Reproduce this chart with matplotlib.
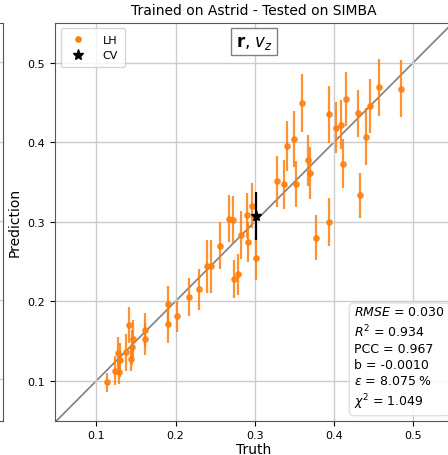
import numpy as np
import matplotlib
matplotlib.use("Agg")
import matplotlib.pyplot as plt
from matplotlib.lines import Line2D

# -------------------------------
# Data
# -------------------------------
truth_lh = [0.113, 0.124, 0.127, 0.129, 0.130, 0.138, 0.141, 0.144, 0.145, 0.147,
            0.161, 0.162, 0.190, 0.191, 0.202, 0.217, 0.230, 0.240, 0.245, 0.256,
            0.267, 0.272, 0.274, 0.279, 0.282, 0.290, 0.291, 0.296, 0.301, 0.328,
            0.337, 0.340, 0.350, 0.352, 0.360, 0.367, 0.370, 0.377, 0.394, 0.394,
            0.403, 0.409, 0.411, 0.415, 0.430, 0.433, 0.440, 0.445, 0.457, 0.485]
pred_lh = [0.098, 0.113, 0.135, 0.111, 0.126, 0.136, 0.170, 0.127, 0.142, 0.153,
           0.153, 0.164, 0.172, 0.196, 0.181, 0.205, 0.215, 0.244, 0.244, 0.270,
           0.304, 0.302, 0.228, 0.234, 0.283, 0.308, 0.274, 0.320, 0.254, 0.351,
           0.347, 0.395, 0.404, 0.347, 0.449, 0.377, 0.361, 0.280, 0.300, 0.435,
           0.418, 0.422, 0.373, 0.454, 0.436, 0.333, 0.407, 0.445, 0.469, 0.467]
err_lh = [0.012, 0.018, 0.020, 0.015, 0.021, 0.023, 0.023, 0.015, 0.022, 0.023,
          0.020, 0.021, 0.025, 0.023, 0.019, 0.024, 0.026, 0.033, 0.033, 0.030,
          0.030, 0.030, 0.024, 0.026, 0.030, 0.028, 0.025, 0.028, 0.027, 0.032,
          0.031, 0.031, 0.035, 0.029, 0.036, 0.032, 0.033, 0.028, 0.030, 0.036,
          0.032, 0.031, 0.031, 0.034, 0.030, 0.028, 0.036, 0.034, 0.036, 0.036]

truth_cv = [0.301]
pred_cv = [0.307]
err_cv = [0.030]

stats = ["$RMSE$ = 0.030", "$R^2$ = 0.934", "PCC = 0.967",
         "b = -0.0010", r"$\epsilon$ = 8.075 %", r"$\chi^2$ = 1.049"]

lims = (0.048, 0.55)

# -------------------------------
# Figure (right panel of a wider figure, cropped)
# -------------------------------
fig = plt.figure(figsize=(4.48, 4.56), dpi=100)
left, bottom, w, h = 55 / 448, 34.3 / 456, 398 / 448, 398 / 456

# sliver of the neighbouring panel on the left
ax0 = fig.add_axes([3 / 448 - w, bottom, w, h])
ax0.set_xlim(lims)
ax0.set_ylim(lims)
ax0.set_xticks([])
ax0.set_yticks([0.1, 0.2, 0.3, 0.4, 0.5])
ax0.tick_params(labelleft=False, length=0)
ax0.grid(True, color="#cccccc", lw=1)
for s in ax0.spines.values():
    s.set_color("#555555")

ax = fig.add_axes([left, bottom, w, h])
ax.plot(lims, lims, color="gray", lw=1.2, zorder=1)
ax.errorbar(truth_lh, pred_lh, yerr=err_lh, fmt="o", ms=3.8, color="tab:orange",
            ecolor="tab:orange", elinewidth=1.6, alpha=0.85, zorder=2)
ax.errorbar(truth_cv, pred_cv, yerr=err_cv, fmt="*", ms=8, color="black",
            elinewidth=1.6, zorder=3)

ax.set_xlim(lims)
ax.set_ylim(0.05, 0.55)
ax.set_xticks([0.1, 0.2, 0.3, 0.4, 0.5])
ax.set_yticks([0.1, 0.2, 0.3, 0.4, 0.5])
ax.tick_params(labelsize=8)
ax.grid(True, color="#cccccc", lw=1)
for s in ax.spines.values():
    s.set_color("#555555")

ax.set_xlabel("Truth", fontsize=10, labelpad=1)
ax.set_ylabel("Prediction", fontsize=10)
ax.set_title("Trained on Astrid - Tested on SIMBA", fontsize=10, pad=6)

handles = [Line2D([], [], ls="none", marker="o", ms=3.8, color="tab:orange"),
           Line2D([], [], ls="none", marker="*", ms=8, color="black")]
ax.legend(handles, ["LH", "CV"], loc="upper left", fontsize=8,
          handletextpad=1.2, borderpad=0.6)

ax.text(0.5, 0.975, r"$\mathbf{r}$, $v_z$", transform=ax.transAxes, fontsize=12,
        ha="center", va="top",
        bbox=dict(boxstyle="square,pad=0.25", fc="white", ec="gray", lw=1))

ax.text(0.752, 0.025, "\n".join(stats), transform=ax.transAxes, fontsize=9,
        ha="left", va="bottom", linespacing=1.3,
        bbox=dict(boxstyle="round,pad=0.4", fc="white", ec="#dddddd", alpha=0.9))

plt.savefig("out.png", dpi=100)
